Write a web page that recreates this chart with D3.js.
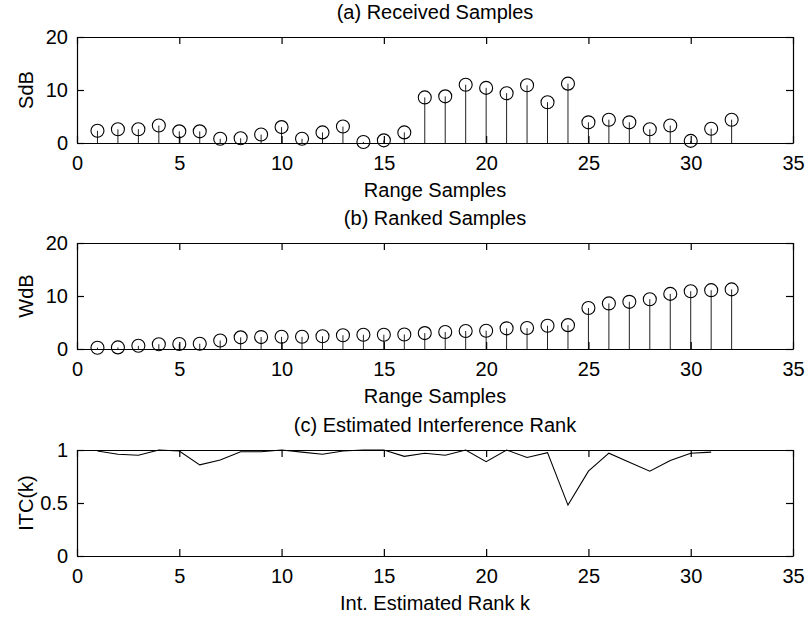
<!DOCTYPE html>
<html>
  <head>
    <meta charset="utf-8">
    <title>Received, ranked samples and interference rank</title>
    <script src="https://cdn.jsdelivr.net/npm/d3@7"></script>
    <style>
      body { margin: 0; background: #fff; }
      svg { display: block; font-family: "Liberation Sans", Arial, Helvetica, sans-serif; }
      .axis path, .axis line { stroke: #000; stroke-width: 1.2; }
      .axis text { font-size: 20px; fill: #000; }
      .label { font-size: 20px; fill: #000; }
      .stem { stroke: #222; stroke-width: 1; }
      .marker { fill: none; stroke: #000; stroke-width: 1.1; }
      .itcLine { fill: none; stroke: #000; stroke-width: 1.1; }
    </style>
  </head>

  <body>
    <svg id="chart" width="809" height="619"></svg>

    <script>
      // data
      samples = [1, 2, 3, 4, 5, 6, 7, 8, 9, 10, 11, 12, 13, 14, 15, 16,
        17, 18, 19, 20, 21, 22, 23, 24, 25, 26, 27, 28, 29, 30, 31, 32];
      receivedDb = [2.3, 2.6, 2.6, 3.3, 2.2, 2.2, 0.8, 0.9, 1.6, 3.0, 0.8, 2.0, 3.1, 0.2, 0.5, 2.0,
        8.6, 8.8, 11.0, 10.4, 9.4, 10.9, 7.7, 11.2, 3.9, 4.4, 3.9, 2.6, 3.3, 0.4, 2.7, 4.4];
      rankedDb = [0.25, 0.3, 0.6, 0.9, 0.95, 1.0, 1.6, 2.2, 2.25, 2.3, 2.3, 2.4, 2.6, 2.7, 2.7, 2.75,
        3.0, 3.2, 3.4, 3.45, 3.9, 3.95, 4.4, 4.5, 7.75, 8.6, 8.9, 9.4, 10.4, 10.9, 11.1, 11.25];
      rankK = [1, 2, 3, 4, 5, 6, 7, 8, 9, 10, 11, 12, 13, 14, 15, 16,
        17, 18, 19, 20, 21, 22, 23, 24, 25, 26, 27, 28, 29, 30, 31];
      itc = [0.99, 0.96, 0.95, 1.0, 0.99, 0.86, 0.905, 0.984, 0.984, 1.0, 0.98, 0.96, 0.99, 1.0, 1.0, 0.94,
        0.97, 0.95, 1.0, 0.89, 1.0, 0.93, 0.975, 0.48, 0.80, 0.97, 0.885, 0.80, 0.9, 0.97, 0.98];

      xTicks = [0, 5, 10, 15, 20, 25, 30, 35];
      dbTicks = [0, 10, 20];
      itcTicks = [0, 0.5, 1];

      // layout
      chart = d3.select("#chart");
      left = 77;
      right = 793;
      panelHeight = 106;
      tickLen = 7;

      panels = [
        {top: 37, title: "(a) Received Samples", ylabel: "SdB", xlabel: "Range Samples",
          domain: [0, 20], ticks: dbTicks, format: d3.format("d")},
        {top: 243, title: "(b) Ranked Samples", ylabel: "WdB", xlabel: "Range Samples",
          domain: [0, 20], ticks: dbTicks, format: d3.format("d")},
        {top: 450, title: "(c) Estimated Interference Rank", ylabel: "ITC(k)", xlabel: "Int. Estimated Rank k",
          domain: [0, 1], ticks: itcTicks, format: d => d == 0.5 ? "0.5" : d}
      ];

      scaleX = d3.scaleLinear()
        .domain([0, 35])
        .range([left, right]);

      panels.forEach(function(p, i) {
        let bottom = p.top + panelHeight;
        let scaleY = d3.scaleLinear()
          .domain(p.domain)
          .range([bottom, p.top]);
        let g = chart.append("g").attr("id", "panel" + i);

        // marks
        if (i < 2) {
          let values = i == 0 ? receivedDb : rankedDb;
          g.selectAll(".stem")
              .data(samples)
            .enter().append("line")
              .classed("stem", true)
              .attr("x1", d => scaleX(d))
              .attr("x2", d => scaleX(d))
              .attr("y1", scaleY(0))
              .attr("y2", (d, j) => scaleY(values[j]));
          g.selectAll(".marker")
              .data(samples)
            .enter().append("circle")
              .classed("marker", true)
              .attr("cx", d => scaleX(d))
              .attr("cy", (d, j) => scaleY(values[j]))
              .attr("r", 6.5);
        } else {
          g.append("path")
            .datum(rankK)
            .classed("itcLine", true)
            .attr("d", d3.line()
              .x(d => scaleX(d))
              .y((d, j) => scaleY(itc[j])));
        }

        // axes, ticks pointing inward on all four sides
        g.append("g")
          .classed("axis", true)
          .attr("transform", "translate(0," + bottom + ")")
          .call(d3.axisBottom(scaleX).tickValues(xTicks).tickSizeInner(-tickLen).tickSizeOuter(0).tickPadding(13));
        g.append("g")
          .classed("axis", true)
          .attr("transform", "translate(0," + p.top + ")")
          .call(d3.axisTop(scaleX).tickValues(xTicks).tickSizeInner(-tickLen).tickSizeOuter(0).tickFormat(""));
        g.append("g")
          .classed("axis", true)
          .attr("transform", "translate(" + left + ",0)")
          .call(d3.axisLeft(scaleY).tickValues(p.ticks).tickFormat(p.format).tickSizeInner(-tickLen).tickSizeOuter(0).tickPadding(9));
        g.append("g")
          .classed("axis", true)
          .attr("transform", "translate(" + right + ",0)")
          .call(d3.axisRight(scaleY).tickValues(p.ticks).tickSizeInner(-tickLen).tickSizeOuter(0).tickFormat(""));
        g.selectAll(".axis").attr("font-family", null).attr("font-size", null);

        // labels
        g.append("text")
          .classed("label", true)
          .attr("x", (left + right) / 2)
          .attr("y", p.top - 18.5)
          .attr("text-anchor", "middle")
          .text(p.title);
        g.append("text")
          .classed("label", true)
          .attr("x", (left + right) / 2)
          .attr("y", bottom + 54)
          .attr("text-anchor", "middle")
          .text(p.xlabel);
        g.append("text")
          .classed("label", true)
          .attr("transform", "translate(33," + (p.top + panelHeight / 2) + ") rotate(-90)")
          .attr("text-anchor", "middle")
          .text(p.ylabel);
      });
    </script>
  </body>
</html>
